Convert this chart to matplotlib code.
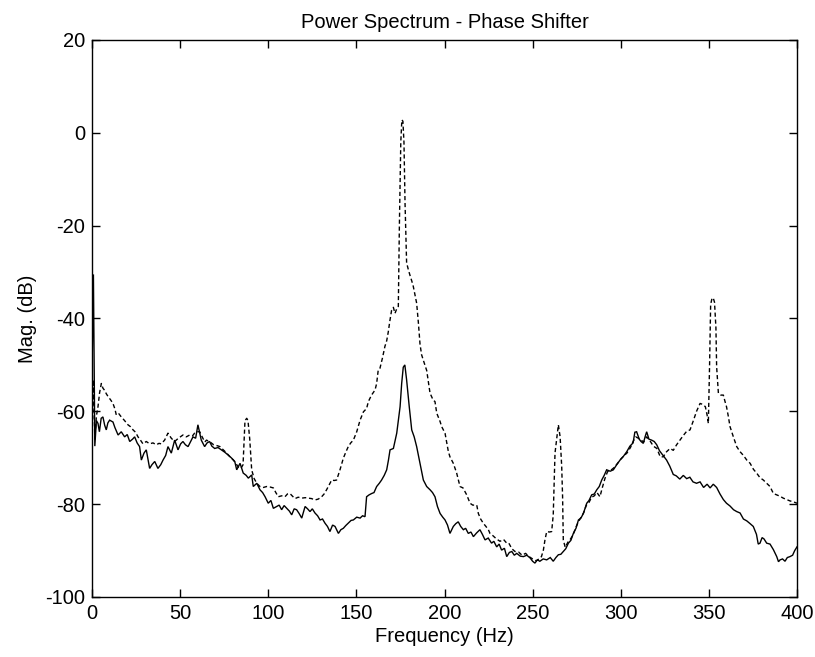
import matplotlib
matplotlib.use("Agg")
import matplotlib.pyplot as plt

# ---- data ----
# solid curve
f_solid = [0, 0.8, 1.6, 2.5, 3.4, 4.2, 5.2, 6.2, 7.2, 8.1, 9, 10, 11.9, 13, 14.8, 16.6, 18.5, 20, 21.4, 23,
           24.2, 25.6, 27, 28, 29.5, 30.8, 32.7, 34, 35.6, 37.4, 39, 40.3, 41.8, 43.1, 45, 46.9, 48.8, 50.3, 51.6, 53,
           54.5, 56, 57.3, 58.8, 60.1, 61, 62, 63.9, 65.3, 66.7, 68, 69.6, 71.5, 73.4, 75.3, 77.2, 79, 81, 82.1, 84,
           85.8, 87.5, 88.7, 90.6, 91.5, 93.5, 95.3, 96.8, 98.2, 100, 101.5, 102.9, 104.8, 106.2, 107.6, 109, 110.5, 112, 113.3, 114.7,
           116.1, 117.5, 119, 120.9, 122.3, 123.7, 125, 126.5, 128, 129.4, 130.8, 132.2, 133.6, 135, 136.5, 137.9, 139.8, 141.2, 142.6, 144,
           145.4, 147, 148.3, 150.2, 152.1, 153.5, 154.9, 155.8, 157.2, 158.7, 160, 161.5, 163, 164.3, 165.8, 167.2, 168.2, 169.1, 171, 172.9,
           174.8, 175.7, 176.6, 177.5, 178.5, 180, 181.4, 182.8, 184.2, 186, 188, 189.9, 191.8, 193.2, 194.6, 196, 197.5, 199, 200.3, 201.7,
           203.1, 205, 206.4, 207.8, 209.2, 210.7, 212, 213.5, 215, 216.4, 218.2, 220.1, 221.5, 223, 224.8, 226.7, 228, 229.6, 231, 232.4,
           234, 235.3, 236.8, 238.2, 239.6, 241, 243, 244.8, 246.7, 248.6, 250, 251.3, 252.7, 254.1, 256, 258, 260, 261.7, 263.2, 264.6,
           266, 267.4, 268.8, 270.3, 271.7, 273.1, 274.6, 276, 277.4, 278.8, 280.7, 282, 283.5, 285, 286.4, 287.8, 289.2, 290.6, 292, 294,
           295.8, 297.7, 299.6, 301.5, 303.4, 305.2, 307, 308, 309, 310.5, 311.5, 312.8, 313.8, 314.7, 316, 317.5, 319, 320.4, 322, 324,
           326, 327.8, 329.8, 331.5, 333.5, 335.5, 337.4, 339.2, 341, 343, 345, 347, 349, 350.7, 352.5, 354.4, 356.3, 358.2, 360, 362,
           364, 365.8, 367.7, 369.6, 371.5, 373.4, 375.2, 377, 378, 379, 380.2, 381.3, 382.8, 384.7, 386.6, 388.5, 389.5, 390.4, 391.8, 393.2,
           394.5, 396, 397.5, 398.7, 400]
m_solid = [-52, -30.5, -67.5, -62, -62.6, -64.4, -61.5, -61.2, -63, -64, -62.5, -61.9, -62.3, -63.5, -65.1, -64.4, -65.5, -65, -66.5, -66,
           -65.5, -66.8, -67.6, -70.5, -69, -68.3, -72.3, -71.5, -70.8, -72.3, -71.5, -70.5, -69.5, -67.6, -69, -66.2, -68.3, -67, -66.5, -67.2,
           -67.6, -66.5, -65.5, -65.8, -62.9, -64.5, -66.2, -67.6, -66.8, -66.5, -67.5, -68, -67.8, -68.3, -68.8, -69.4, -70, -70.8, -72.6, -71.2,
           -73.3, -73.8, -74.4, -73.7, -76.2, -75.5, -76.9, -77.5, -78.4, -79.8, -79.2, -80.9, -80.5, -80.2, -81.2, -80.3, -80.9, -81.5, -82.3, -81,
           -81.2, -82, -83, -80.5, -81, -81.6, -81, -81.9, -82.5, -83.4, -83.2, -84.1, -84.8, -85.9, -84.5, -84.8, -86.3, -85.5, -85.2, -84.6,
           -84.1, -83.5, -83.4, -82.8, -83, -82.5, -82.7, -78.4, -78, -77.7, -77.5, -76.2, -75.5, -74.8, -73.8, -72.6, -70.5, -68.3, -68, -64.7,
           -59, -54, -50.5, -50, -53.2, -59, -64, -65.5, -67.6, -71, -74.8, -76.2, -76.9, -77.5, -78.4, -80.5, -82, -82.8, -83.4, -84.5,
           -86.3, -84.8, -84.2, -83.8, -84.8, -85.5, -85.2, -86.3, -86, -87, -86.2, -85.5, -86.5, -87.7, -87.3, -88.4, -88, -89.2, -88.6, -89.9,
           -89.5, -91.3, -90.4, -90.2, -91, -90.6, -91.2, -91.3, -91, -91.6, -92.3, -92.7, -92, -92.3, -91.8, -92, -91.5, -92.3, -91.5, -90.9,
           -90.8, -90.2, -89.6, -88.4, -87.8, -86.3, -85.2, -83.4, -83, -82, -79.8, -79.2, -78, -77.8, -76.9, -76.2, -74.8, -73.8, -72.6, -72.9,
           -72.6, -71.5, -70.5, -69.7, -68.7, -67.5, -66.8, -64.5, -64.4, -66, -66.5, -66.9, -65.5, -64.4, -66, -66.2, -66.5, -67.2, -68.5, -69.5,
           -70.5, -71.8, -73.6, -73.9, -74.6, -73.8, -74.5, -74.2, -75.2, -75.5, -75.2, -76.4, -75.7, -76.5, -75.7, -76.4, -77.8, -79, -79.8, -80.4,
           -81.2, -81.6, -81.9, -83.2, -83.6, -84.2, -84.8, -86.5, -88.6, -88.4, -87.2, -87.5, -88.4, -88.6, -89.8, -91.3, -92.4, -92, -91.8, -92.3,
           -91.5, -91.3, -91, -90, -89.2]

# dashed curve
f_dash = [0, 0.8, 1.6, 2.5, 3.4, 4.3, 5.3, 6.2, 7.2, 8.1, 9.1, 10.5, 11.9, 13, 13.8, 15.2, 16.6, 18.5, 20.4, 21.8,
          23.3, 24.7, 26.1, 27.5, 28.9, 30.8, 32.7, 34.6, 36.5, 38, 39.3, 41.2, 43.1, 45, 46.9, 49, 51.6, 53.5, 55.4, 57,
          58.2, 60, 61.1, 62.5, 64, 65, 67, 69, 71, 72.6, 74.5, 76.4, 78.3, 80.2, 81.6, 83, 84.5, 85.7, 86.8, 87.8,
          88.5, 89.5, 90.6, 92, 93.5, 95.3, 97.2, 99.1, 101, 102.9, 104.3, 105.7, 107.6, 109.5, 110.9, 112.3, 113.8, 115.2, 117, 119,
          121, 122.8, 124.6, 126.5, 128.4, 130.3, 131.7, 133.1, 134.6, 136, 137.4, 138.8, 140.7, 142.6, 144, 145.4, 146.8, 148.3, 150.2, 152.1,
          154, 155.8, 156.8, 158.6, 160.6, 161.5, 162.4, 163.4, 164.8, 166.2, 167.2, 168.1, 169, 170, 171, 171.9, 173, 173.8, 174.4, 175.2,
          175.8, 176.4, 177, 177.6, 178.5, 179.5, 180.5, 181.5, 182.3, 183.3, 184.2, 185.2, 186.1, 187, 188, 189.9, 191.8, 193.6, 194.6, 195.6,
          197.5, 198.4, 200.3, 202.2, 203.1, 205, 206.9, 208.8, 210.5, 212.6, 214.5, 216, 218.3, 219.2, 220.5, 222, 223.5, 224.9, 225.8, 227.5,
          229.5, 231.5, 233.5, 235.3, 236.5, 238.2, 240, 242, 244, 246, 248, 250, 252, 254, 255, 256.1, 257, 258, 259.5, 260.8,
          261.7, 262.7, 263.6, 264.6, 265.6, 266.5, 267, 267.4, 268.5, 270, 271.5, 273, 274.5, 276, 277.5, 279, 280.5, 282, 283.5, 285,
          286.5, 288.2, 289.5, 291, 292.5, 294, 296, 298, 300, 302, 303.5, 305.5, 307, 308.5, 310, 311.5, 313, 314.7, 316.5, 318.5,
          320.5, 322.4, 324.1, 326, 328, 329.8, 331.7, 333.6, 335.5, 337.4, 339.3, 341.2, 343, 345, 346.5, 348, 349, 349.7, 350.4, 351,
          351.8, 352.5, 353.2, 354, 354.4, 355.4, 356.8, 358.2, 359.1, 360, 361, 362, 363.9, 365.8, 367.7, 369.6, 371.5, 373.4, 375.3, 377.1,
          379, 380.9, 382.8, 384.7, 386.6, 388.5, 390.4, 392.2, 394.1, 396, 398, 400]
m_dash = [-65, -53.2, -66, -61, -59, -56, -54, -55, -55.5, -56.2, -56.8, -57.5, -58.3, -59.5, -60.8, -60.5, -61.2, -62, -62.9, -63.3,
          -64, -64.5, -65.5, -66.2, -67, -66.5, -67, -66.8, -67.2, -66.9, -67, -66.2, -64.7, -65.8, -66.5, -65.8, -65.1, -65.5, -65.1, -65.3,
          -64.7, -64.4, -64.4, -65.5, -66.6, -66.2, -66.6, -67.2, -67.4, -67.6, -68.3, -69, -69.8, -70.5, -71.2, -72, -72.3, -71.5, -62, -61.5,
          -62, -66, -72.6, -74.5, -75.5, -76.2, -76.4, -76.2, -76.3, -76.5, -77.5, -78.4, -78.2, -78.4, -77.8, -77.7, -78.3, -78.8, -78.5, -78.7,
          -78.6, -78.7, -78.8, -79.1, -78.9, -78.4, -77.8, -76.9, -75.8, -74.8, -74.9, -74.8, -72.6, -70.1, -68.8, -67.6, -66.8, -66.2, -64.4, -61.9,
          -60.1, -59.4, -57.9, -56.5, -55.4, -54, -51.1, -50.7, -48.5, -46, -44.8, -42.9, -40.5, -38.2, -37.6, -38.9, -37.8, -37.4, -20, -2,
          2.8, 2.5, -2, -15, -28, -29.5, -30.8, -32, -33.1, -35, -36.7, -41, -45.5, -47.8, -49, -51.2, -56.1, -57.6, -57.9, -60.4,
          -62.2, -63.3, -64.7, -68.7, -69.8, -71.2, -73.3, -76.2, -76.5, -78, -79.8, -80.2, -80.2, -82, -83.2, -84.1, -84.8, -85.5, -86.3, -86.8,
          -87.5, -88, -87.6, -88.4, -88.4, -89.6, -90.2, -90.3, -91, -90.6, -91.3, -91.8, -92.2, -91.7, -91.3, -89.9, -87.7, -85.9, -86, -85.9,
          -82.3, -69, -66.2, -62.9, -65.5, -71.9, -78.4, -87.7, -89.3, -88.2, -87.5, -86.6, -85, -83.8, -82.8, -81.8, -80.2, -79.6, -78.5, -78.2,
          -77.5, -78.4, -76.5, -74.5, -73, -72.8, -72.2, -71.3, -70.3, -69.5, -69, -67.8, -66.5, -65.5, -65.8, -66.2, -66.6, -65.5, -66.3, -67.5,
          -68, -69.8, -69.8, -68.7, -68, -68.4, -67.2, -66.2, -65.2, -64.3, -64, -62, -60, -58.3, -58.5, -59, -60.8, -62.6, -50, -37,
          -35.6, -35.6, -36.5, -42, -50.4, -56.1, -56.5, -56.5, -57.8, -59, -61, -63.3, -65.5, -67.6, -68.7, -69.5, -70.5, -71.2, -72.5, -73.3,
          -74.3, -74.8, -75.5, -76.2, -77.7, -78, -78.3, -78.7, -79, -79.3, -79.5, -79.8]

x_ticks = [0, 50, 100, 150, 200, 250, 300, 350, 400]
y_ticks = [-100, -80, -60, -40, -20, 0, 20]

title_text = "Power Spectrum - Phase Shifter"
x_label = "Frequency (Hz)"
y_label = "Mag. (dB)"

# ---- figure ----
plt.rcParams['font.family'] = ['Liberation Sans', 'DejaVu Sans']
plt.rcParams['axes.unicode_minus'] = False

fig = plt.figure(figsize=(8.15, 6.57), dpi=100)
ax = fig.add_axes([92 / 815, 60 / 657, 705 / 815, 557 / 657])

ax.plot(f_solid, m_solid, color='black', linewidth=1.0, solid_joinstyle='miter')
ax.plot(f_dash, m_dash, color='black', linewidth=1.0, linestyle=(0, (3, 2)))

ax.set_xlim(0, 400)
ax.set_ylim(-100, 20)
ax.set_xticks(x_ticks)
ax.set_yticks(y_ticks)
ax.tick_params(direction='in', top=True, right=True, length=6, width=1,
               labelsize=14.5, pad=5)
for s in ax.spines.values():
    s.set_linewidth(1.0)

ax.set_title(title_text, fontsize=14.5, pad=9)
ax.set_xlabel(x_label, fontsize=14.5, labelpad=3)
ax.set_ylabel(y_label, fontsize=14.5, labelpad=6)

fig.savefig("out.png", dpi=100, facecolor='white')
